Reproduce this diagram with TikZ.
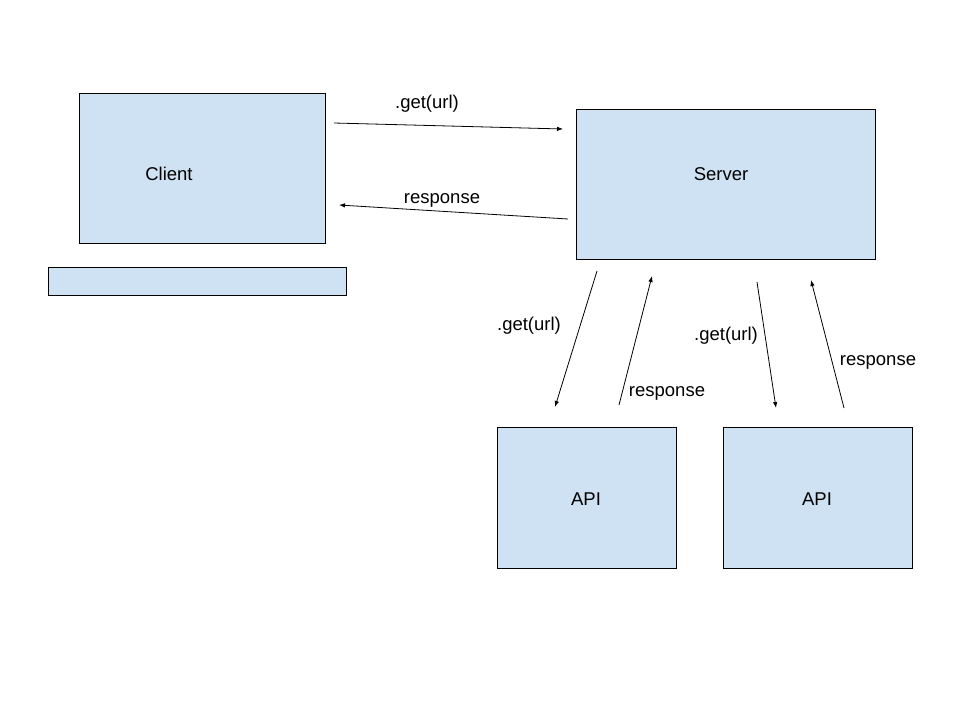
\documentclass[tikz,border=0pt]{standalone}
\usepackage{fontspec}
\setmainfont{Liberation Sans}
\usetikzlibrary{arrows.meta}
\definecolor{boxfill}{HTML}{CFE2F3}
\begin{document}
\begin{tikzpicture}[x=1pt,y=-1pt,
  box/.style={draw=black, fill=boxfill, line width=0.9pt},
  lbl/.style={font=\fontsize{18.5}{21}\selectfont, inner sep=0pt},
  conn/.style={line width=0.8pt, -{Latex[length=6pt,width=4.5pt]}}]
\useasboundingbox (0,0) rectangle (960,720);
\fill[white] (0,0) rectangle (960,720);
% boxes
\draw[box] (79,93) rectangle (325,243) coordinate[pos=0.5] (client);
\node[lbl] (clienttext) at (169,174) {Client};
\draw[box] (48,267) rectangle (346,295) coordinate[pos=0.5] (bar);
\draw[box] (576,109) rectangle (875,259) coordinate[pos=0.5] (server);
\node[lbl] (servertext) at (721,174) {Server};
\draw[box] (497,427) rectangle (676,568) coordinate[pos=0.5] (apiA);
\node[lbl] (apiAtext) at (586,499) {API};
\draw[box] (723,427) rectangle (912,568) coordinate[pos=0.5] (apiB);
\node[lbl] (apiBtext) at (817,499) {API};
% connector endpoints
\coordinate (c1s) at (334,123); \coordinate (c1e) at (563,129);
\coordinate (c2s) at (568,219); \coordinate (c2e) at (339,205);
\coordinate (c3s) at (597,271); \coordinate (c3e) at (555,407);
\coordinate (c4s) at (619,405); \coordinate (c4e) at (652,276);
\coordinate (c5s) at (757,282); \coordinate (c5e) at (776,408);
\coordinate (c6s) at (844,408); \coordinate (c6e) at (811,280);
\draw[conn] (c1s) -- (c1e);
\draw[conn] (c2s) -- (c2e);
\draw[conn] (c3s) -- (c3e);
\draw[conn] (c4s) -- (c4e);
\draw[conn] (c5s) -- (c5e);
\draw[conn] (c6s) -- (c6e);
% labels
\node[lbl] (l1) at (427,104) {.get(url)};
\node[lbl] (l2) at (442,200) {response};
\node[lbl] (l3) at (529,326) {.get(url)};
\node[lbl] (l4) at (667,393) {response};
\node[lbl] (l5) at (726,336) {.get(url)};
\node[lbl] (l6) at (878,362) {response};
\end{tikzpicture}
\end{document}
